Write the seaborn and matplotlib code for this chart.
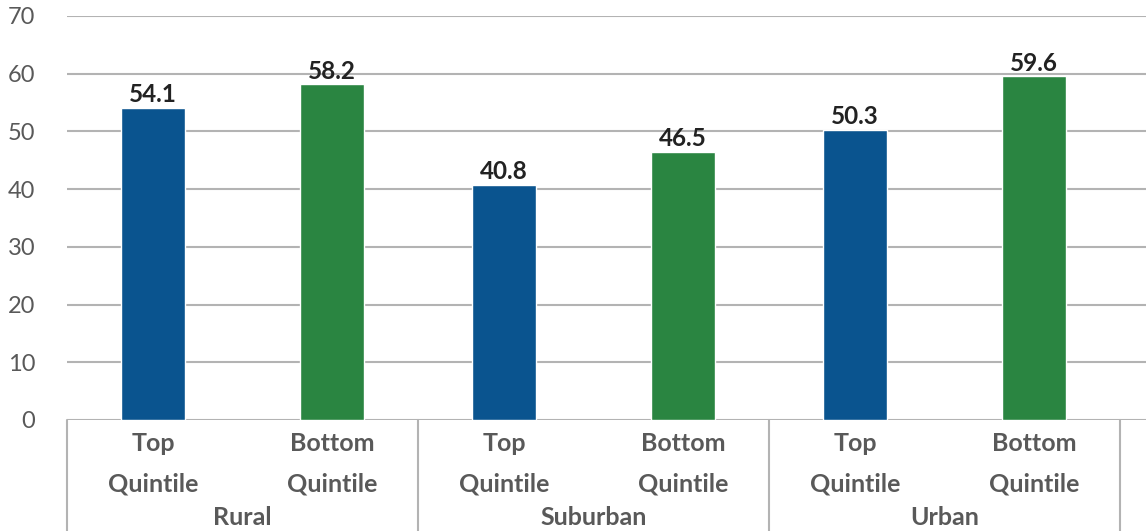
import pandas as pd
import seaborn as sns
import matplotlib.pyplot as plt
import matplotlib.transforms as mtransforms

# dados
areas = ['Rural', 'Suburban', 'Urban']
quintis = ['Top\nQuintile', 'Bottom\nQuintile']
top_vals = [54.1, 40.8, 50.3]
bottom_vals = [58.2, 46.5, 59.6]
yticks = [0, 10, 20, 30, 40, 50, 60, 70]

cores = {'Top\nQuintile': '#0a548f', 'Bottom\nQuintile': '#2a8541'}

linhas = []
for i, area in enumerate(areas):
    linhas.append({'area': area, 'quintil': quintis[0], 'valor': top_vals[i]})
    linhas.append({'area': area, 'quintil': quintis[1], 'valor': bottom_vals[i]})
df = pd.DataFrame(linhas)

sns.set_style('white')
plt.rcParams['font.family'] = ['Lato', 'DejaVu Sans']

fig = plt.figure(figsize=(11.46, 5.31), dpi=100)
ax = fig.add_axes([67 / 1146, 1 - 420 / 531, 1 - 67 / 1146, 404 / 531])

sns.barplot(data=df, x='area', y='valor', hue='quintil', palette=cores,
            dodge=True, width=1.02, gap=0.647, legend=False, ax=ax, saturation=1)

for cont in ax.containers:
    ax.bar_label(cont, fmt='%.1f', padding=1, fontsize=17.5, fontweight='bold', color='#222222')

ax.set_ylim(0, 70)
ax.set_xlim(-0.5, 1079 / 351 - 0.5)
ax.set_yticks(yticks)
ax.tick_params(axis='y', length=0, pad=23, labelsize=17, labelcolor='#595959')
ax.set_xticks([])
ax.set_xlabel('')
ax.set_ylabel('')
for s in ax.spines.values():
    s.set_visible(False)
ax.yaxis.grid(True, color='#b3b3b3', linewidth=1.5)
ax.set_axisbelow(True)

# rotulos de categoria em dois niveis
trans = mtransforms.blended_transform_factory(ax.transData, ax.transAxes)
px = 1 / 404
desloc = [-0.255, 0.255]
for i, area in enumerate(areas):
    for j, q in enumerate(quintis):
        ax.text(i + desloc[j], -12 * px, q, transform=trans, ha='center', va='top',
                fontsize=18, fontweight='bold', color='#595959', linespacing=1.9)
    ax.text(i, -86 * px, area, transform=trans, ha='center', va='top',
            fontsize=18, fontweight='bold', color='#595959')

for xs in [-0.5, 0.5, 1.5, 2.5]:
    ax.plot([xs, xs], [0, -111 * px], transform=trans, color='#b3b3b3',
            linewidth=1.5, clip_on=False)

fig.savefig('out.png', dpi=100)
